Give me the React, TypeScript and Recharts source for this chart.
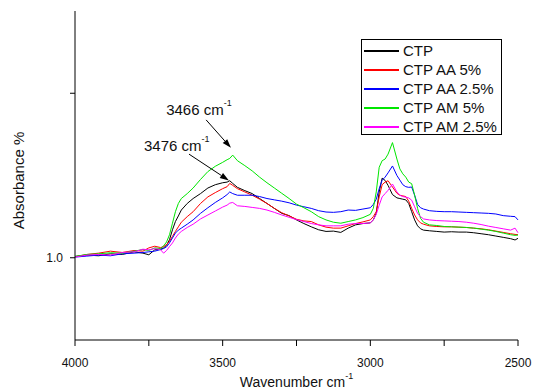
import { LineChart, Line, XAxis, YAxis, ReferenceLine, Legend } from 'recharts'

const FONT = '"Liberation Sans", Arial, sans-serif'

// wavenumber grid (cm-1), denser where the bands are
const wavenumbers = [
  4000, 3960, 3920, 3880, 3840, 3800, 3770, 3750, 3730, 3710, 3700, 3690, 3680, 3670, 3660, 3650,
  3640, 3620, 3600, 3575, 3550, 3525, 3500, 3485, 3476, 3466, 3450, 3425, 3400, 3375, 3350, 3325,
  3300, 3275, 3250, 3225, 3200, 3175, 3150, 3125, 3100, 3075, 3050, 3025, 3000, 2990, 2980, 2970,
  2960, 2950, 2940, 2925, 2910, 2900, 2890, 2880, 2870, 2860, 2850, 2840, 2830, 2820, 2800, 2775,
  2750, 2725, 2700, 2675, 2650, 2625, 2600, 2575, 2550, 2525, 2510, 2500,
]

const ctp = [
  1.004, 1.008, 1.006, 1.012, 1.01, 1.018, 1.014, 1.009, 1.024, 1.026, 1.03, 1.038, 1.055, 1.085, 1.11, 1.127,
  1.145, 1.165, 1.18, 1.195, 1.212, 1.222, 1.228, 1.23, 1.234, 1.226, 1.214, 1.204, 1.195, 1.18, 1.165, 1.15,
  1.135, 1.128, 1.115, 1.104, 1.094, 1.085, 1.08, 1.081, 1.077, 1.09, 1.1, 1.104, 1.106, 1.115, 1.135, 1.2,
  1.242, 1.235, 1.22, 1.192, 1.182, 1.18, 1.178, 1.176, 1.165, 1.14, 1.115, 1.097, 1.088, 1.084, 1.082, 1.08,
  1.078, 1.079, 1.078, 1.078, 1.076, 1.073, 1.07, 1.066, 1.062, 1.058, 1.054, 1.059,
]

const ctpAA5 = [
  1.003, 1.01, 1.014, 1.02, 1.016, 1.022, 1.02, 1.03, 1.035, 1.031, 1.034, 1.04, 1.05, 1.065, 1.08, 1.094,
  1.108, 1.125, 1.14, 1.165, 1.185, 1.198, 1.21, 1.216, 1.226, 1.22, 1.21, 1.2, 1.19, 1.178, 1.165, 1.15,
  1.137, 1.127, 1.117, 1.112, 1.11, 1.1, 1.093, 1.09, 1.09, 1.097, 1.104, 1.109, 1.115, 1.125, 1.14, 1.185,
  1.222, 1.23, 1.234, 1.215, 1.196, 1.19, 1.188, 1.186, 1.172, 1.15, 1.13, 1.115, 1.106, 1.102, 1.097, 1.095,
  1.094, 1.094, 1.093, 1.092, 1.09, 1.088, 1.085, 1.081, 1.077, 1.073, 1.071, 1.07,
]

const ctpAA25 = [
  1.002, 1.005, 1.008, 1.006, 1.012, 1.014, 1.016, 1.018, 1.02, 1.025, 1.028, 1.033, 1.045, 1.06, 1.075, 1.084,
  1.09, 1.102, 1.115, 1.135, 1.152, 1.168, 1.182, 1.192, 1.2, 1.195, 1.19, 1.19, 1.19, 1.186, 1.18, 1.176,
  1.172, 1.167, 1.16, 1.155, 1.15, 1.143, 1.139, 1.138, 1.14, 1.145, 1.144, 1.148, 1.152, 1.162, 1.178, 1.21,
  1.236, 1.245, 1.258, 1.279, 1.25, 1.236, 1.222, 1.216, 1.214, 1.215, 1.19, 1.162, 1.152, 1.148, 1.143, 1.141,
  1.14, 1.14, 1.139, 1.138, 1.137, 1.136, 1.135, 1.133, 1.128, 1.126, 1.125, 1.115,
]

const ctpAM5 = [
  1.004, 1.01, 1.012, 1.015, 1.014, 1.02, 1.025, 1.022, 1.03, 1.028, 1.036, 1.048, 1.07, 1.105, 1.14, 1.165,
  1.18, 1.195, 1.212, 1.238, 1.262, 1.278, 1.29, 1.298, 1.302, 1.312, 1.295, 1.28, 1.264, 1.245, 1.228, 1.212,
  1.196, 1.18, 1.163, 1.152, 1.14, 1.125, 1.115, 1.108, 1.105, 1.11, 1.115, 1.122, 1.132, 1.15, 1.2, 1.275,
  1.295, 1.3, 1.315, 1.35, 1.3, 1.27, 1.255, 1.245, 1.23, 1.225, 1.19, 1.15, 1.12, 1.108, 1.1, 1.098,
  1.095, 1.094, 1.093, 1.092, 1.09, 1.087, 1.084, 1.08, 1.075, 1.07, 1.068, 1.069,
]

const ctpAM25 = [
  1.002, 1.008, 1.01, 1.008, 1.016, 1.018, 1.026, 1.024, 1.028, 1.024, 1.014, 1.022, 1.034, 1.045, 1.06, 1.072,
  1.08, 1.092, 1.102, 1.118, 1.13, 1.142, 1.154, 1.16, 1.166, 1.168, 1.158, 1.156, 1.153, 1.15, 1.145, 1.138,
  1.13, 1.123, 1.116, 1.11, 1.104, 1.1, 1.097, 1.097, 1.097, 1.102, 1.104, 1.104, 1.106, 1.115, 1.132, 1.16,
  1.185, 1.195, 1.205, 1.224, 1.2, 1.19, 1.186, 1.184, 1.182, 1.175, 1.155, 1.135, 1.125, 1.118, 1.115, 1.113,
  1.112, 1.111, 1.11, 1.108, 1.105, 1.101, 1.096, 1.092, 1.088, 1.084, 1.09, 1.076,
]

const seriesNames = ['CTP', 'CTP AA 5%', 'CTP AA 2.5%', 'CTP AM 5%', 'CTP AM 2.5%']
const seriesValues = [ctp, ctpAA5, ctpAA25, ctpAM5, ctpAM25]
const seriesColors = ['#000000', '#ff0000', '#0000ff', '#00e600', '#ff00ff']

const xTicks = [4000, 3750, 3500, 3250, 3000, 2750, 2500]
const xLabelled = [4000, 3500, 3000, 2500]
const yTicks = [1.0, 1.5]

// peak annotations: arrow tail/tip in data units, text offset from the tail
const annotations = [
  { text: '3466 cm', from: { x: 3556, y: 1.419 }, to: { x: 3472, y: 1.334 }, dx: -40, dy: -5 },
  { text: '3476 cm', from: { x: 3614, y: 1.315 }, to: { x: 3479, y: 1.235 }, dx: -45, dy: -3 },
]

const chartData = wavenumbers.map((w, i) => {
  const row: Record<string, number> = { w }
  seriesValues.forEach((vals, k) => {
    row[`s${k}`] = vals[i]
  })
  return row
})

const arrowShape = (a: (typeof annotations)[number]) => (props: any) => {
  const { x1, y1, x2, y2 } = props
  if (x1 == null) return null
  const ang = Math.atan2(y2 - y1, x2 - x1)
  const len = 9
  const half = 3
  const bx = x2 - len * Math.cos(ang)
  const by = y2 - len * Math.sin(ang)
  const px = -Math.sin(ang) * half
  const py = Math.cos(ang) * half
  return (
    <g>
      <line x1={x1} y1={y1} x2={bx} y2={by} stroke="#000" strokeWidth={1} />
      <polygon points={`${x2},${y2} ${bx + px},${by + py} ${bx - px},${by - py}`} fill="#000" />
      <text x={x1 + a.dx} y={y1 + a.dy} fontSize={15} fontFamily={FONT} fill="#111">
        {a.text}
        <tspan dy={-9} fontSize={9}>-1</tspan>
      </text>
    </g>
  )
}

// legend keeps the series order of the original figure
const LegendBox = () => (
  <div
    style={{
      border: '1px solid #000',
      background: '#fff',
      padding: '1px 0 0 2px',
      fontFamily: FONT,
      fontSize: 15,
      color: '#111',
      boxSizing: 'border-box',
      width: 141,
      height: 96,
    }}
  >
    {seriesNames.map((name, k) => (
      <div key={name} style={{ display: 'flex', alignItems: 'center', height: 19 }}>
        <div style={{ width: 35, height: 2, background: seriesColors[k], marginRight: 4 }} />
        <span style={{ lineHeight: '19px' }}>{name}</span>
      </div>
    ))}
  </div>
)

const YLabel = (props: any) => {
  const vb = props.viewBox ?? { x: 0, y: 11, width: 75, height: 329 }
  const cx = vb.x + 18
  const cy = vb.y + vb.height / 2 + 5
  return (
    <text
      x={cx}
      y={cy}
      transform={`rotate(-90, ${cx}, ${cy})`}
      textAnchor="middle"
      dominantBaseline="central"
      fontSize={15}
      fontFamily={FONT}
      fill="#111"
    >
      Absorbance %
    </text>
  )
}

const XLabel = (props: any) => {
  const vb = props.viewBox ?? { x: 75, y: 340, width: 443, height: 49 }
  return (
    <text x={vb.x + vb.width / 2} y={vb.y + 47} textAnchor="middle" fontSize={14} fontFamily={FONT} fill="#111">
      Wavenumber cm
      <tspan dy={-8} fontSize={9}>-1</tspan>
    </text>
  )
}

export default function App() {
  return (
    <div style={{ position: 'absolute', left: 0, top: 0, width: 542, height: 389, background: '#fff' }}>
      <LineChart width={542} height={389} data={chartData} margin={{ top: 11, right: 24, left: 0, bottom: 0 }}>
        <XAxis
          dataKey="w"
          type="number"
          domain={[2500, 4000]}
          reversed
          ticks={xTicks}
          interval={0}
          tickFormatter={(v) => (xLabelled.includes(v) ? String(v) : '')}
          tick={{ fill: '#111', fontSize: 12, fontFamily: FONT }}
          axisLine={{ stroke: '#000' }}
          tickLine={{ stroke: '#000' }}
          tickSize={6}
          tickMargin={12}
          height={49}
          label={<XLabel />}
        />
        <XAxis
          xAxisId="top"
          orientation="top"
          type="number"
          domain={[2500, 4000]}
          reversed
          tick={false}
          tickLine={false}
          axisLine={{ stroke: '#000' }}
          height={0}
        />
        <YAxis
          type="number"
          domain={[0.75, 1.75]}
          ticks={yTicks}
          interval={0}
          tickFormatter={(v) => (v === 1 ? '1.0' : '')}
          tick={{ fill: '#111', fontSize: 12, fontFamily: FONT }}
          axisLine={{ stroke: '#000' }}
          tickLine={{ stroke: '#000' }}
          tickSize={5}
          tickMargin={7}
          width={75}
          label={<YLabel />}
        />
        <YAxis
          yAxisId="r"
          orientation="right"
          mirror
          type="number"
          domain={[0.75, 1.75]}
          ticks={yTicks}
          interval={0}
          tickFormatter={() => ''}
          axisLine={{ stroke: '#000' }}
          tickLine={{ stroke: '#000' }}
          tickSize={5}
          width={0}
        />
        {seriesNames.map((name, k) => (
          <Line
            key={name}
            dataKey={`s${k}`}
            name={name}
            type="linear"
            stroke={seriesColors[k]}
            strokeWidth={1}
            dot={false}
            isAnimationActive={false}
          />
        ))}
        {annotations.map((a) => (
          <ReferenceLine
            key={a.text}
            segment={[a.from, a.to]}
            ifOverflow="visible"
            shape={arrowShape(a)}
          />
        ))}
        <Legend
          layout="horizontal"
          verticalAlign="middle"
          align="center"
          content={<LegendBox />}
          wrapperStyle={{ left: 361, top: 39, width: 141, height: 96, right: 'auto', bottom: 'auto' }}
        />
      </LineChart>
    </div>
  )
}
